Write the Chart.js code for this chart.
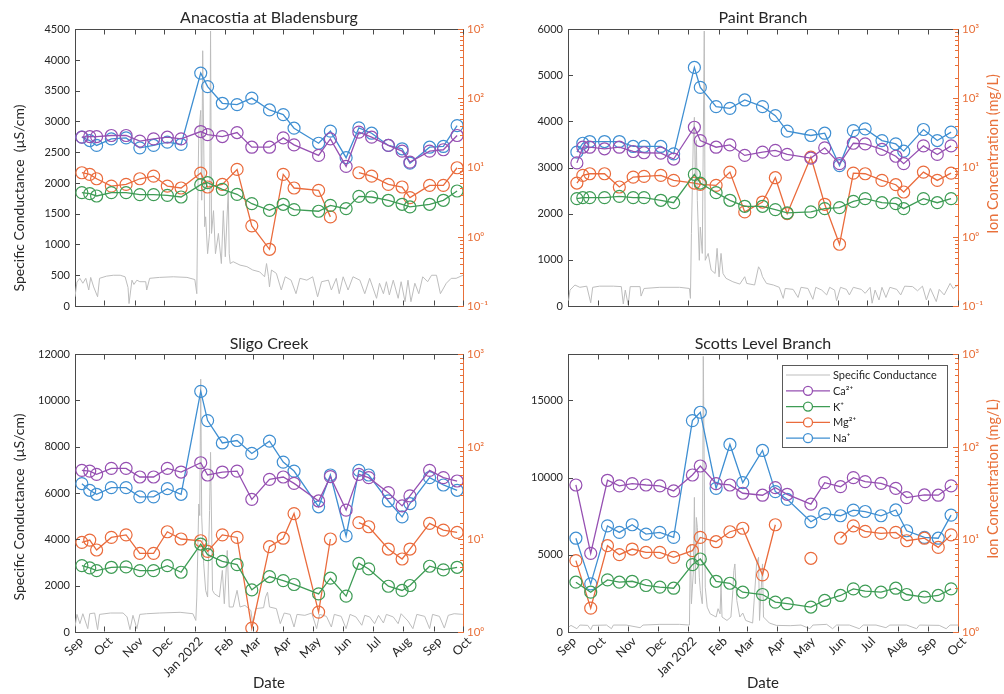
<!DOCTYPE html>
<html><head><meta charset="utf-8">
<script src="https://cdn.jsdelivr.net/npm/chart.js@4.4.1/dist/chart.umd.min.js"></script>
<style>
html,body{margin:0;padding:0;background:#fff;}
#wrap{position:relative;width:1004px;height:694px;overflow:hidden;background:#fff;}
#wrap canvas{position:absolute;}
</style></head><body>
<div id="wrap">
<canvas id="c1" width="502" height="330" style="left:0;top:0"></canvas>
<canvas id="c2" width="502" height="330" style="left:502px;top:0"></canvas>
<canvas id="c3" width="502" height="364" style="left:0;top:330px"></canvas>
<canvas id="c4" width="502" height="364" style="left:502px;top:330px"></canvas>
</div>
<script>
// ---- x axis (days since 1 Sep 2021) ----
const monthDays = [0,30,61,91,122,153,181,212,242,273,303,334,365,395];
const monthLabels = ['Sep','Oct','Nov','Dec','Jan 2022','Feb','Mar','Apr','May','Jun','Jul','Aug','Sep','Oct'];
const ionLabels = ['Ca²⁺','K⁺','Mg²⁺','Na⁺'];
const scLabel = 'Specific Conductance';

// ---- Anacostia at Bladensburg ----
const anaDays = [7,15,22,37,52,66,80,94,108,128,135,150,165,180,198,212,223,248,260,276,289,302,319,333,341,361,375,389];
const anaCa = [27.5,28.1,28.1,29.1,29.1,24.1,26.0,27.5,26.0,33.2,30.0,28.1,32.1,19.7,19.7,26.9,21.3,15.0,26.0,10.4,32.5,27.5,20.9,17.3,12.0,17.3,18.1,29.1];
const anaK = [4.34,4.20,3.89,4.34,4.34,4.06,4.06,3.97,3.76,5.66,6.05,4.85,4.11,3.01,2.41,2.95,2.47,2.34,2.85,2.55,3.84,3.76,3.37,2.95,2.70,2.95,3.37,4.59];
const anaMg = [8.43,7.97,6.90,5.41,5.72,6.90,7.54,5.41,5.07,8.33,5.24,5.72,9.41,1.44,0.66,7.97,5.07,4.69,1.94,null,8.43,7.54,5.72,5.24,3.68,5.54,5.54,9.95];
const anaNa = [27.5,24.6,20.9,26.0,26.9,19.3,20.9,23.3,21.6,232,148,85,81.3,101,68.1,58.3,37.1,22.5,33.6,13.9,37.5,31.4,20.9,18.7,11.6,19.7,20.2,40.5];
const anaScDays = [0,2,5,8,11,14,16,19,23,25,32,39,46,51,54,55,58,60,63,66,72,73,76,86,100,114,122,124,125,126,128,129,130,132,133,135,137,138,139,141,143,146,149,151,153,156,157,158,161,168,175,181,188,193,195,197,198,200,205,210,214,220,225,229,236,242,247,251,258,261,266,269,273,278,283,290,295,300,307,310,314,317,320,324,329,332,336,339,342,346,350,354,359,363,368,372,378,383,388,395];
const anaScVals = [150,390,450,370,450,260,465,310,150,450,485,500,500,475,300,40,420,350,420,395,395,260,450,465,475,465,430,200,1720,2800,3180,1720,4150,1290,1450,850,1180,4470,1180,1550,850,1180,690,1550,800,1880,850,690,720,665,640,585,555,475,690,475,310,585,530,260,475,420,200,450,420,475,150,395,420,260,450,200,475,260,475,420,200,450,125,370,200,395,180,420,125,395,70,420,70,370,200,475,395,500,500,200,370,450,450,500];
const anaLeftTicks = [0,500,1000,1500,2000,2500,3000,3500,4000,4500];

// ---- Paint Branch ----
const pbDays = [9,15,22,37,52,66,77,94,107,128,134,150,164,179,197,210,222,246,260,275,289,301,318,332,340,360,374,388];
const pbCa = [11.7,19.7,19.7,18.7,19.7,17.1,16.4,16.2,13.3,38.3,24.6,19.7,21.3,15.0,16.7,17.7,15.5,13.7,19.3,11.4,22.5,22.0,18.3,14.6,11.4,20.6,15.5,20.6];
const pbK = [3.56,3.68,3.68,3.68,3.84,3.68,3.68,3.37,3.11,7.97,5.98,4.34,3.37,2.76,2.76,2.47,2.21,2.29,2.55,2.64,3.25,3.56,3.11,3.01,2.55,3.56,3.11,3.56];
const pbMg = [5.98,7.71,8.15,8.15,5.24,7.30,7.46,7.71,6.53,5.98,5.72,5.54,8.61,2.29,3.18,7.14,2.16,14.2,2.95,0.78,8.33,8.15,6.53,5.66,4.44,8.61,6.53,8.33];
const pbNa = [16.7,22.5,23.8,23.8,23.8,20.2,20.2,20.2,15.8,280,144,76.1,71.9,94.9,76.1,56.4,33.6,29.1,31.4,10.7,34.3,36.3,24.6,22.0,17.3,35.5,24.6,32.5];
const pbScDays = [0,2,7,12,19,23,25,32,46,54,56,58,61,63,73,74,77,93,113,123,124,125,127,128,129,130,131,133,134,136,138,139,142,145,149,151,153,155,157,160,167,174,179,181,189,193,195,197,201,208,214,218,220,228,233,236,243,248,251,257,262,265,270,272,276,282,285,289,297,301,306,308,311,315,318,322,326,333,337,341,349,354,359,363,367,373,376,381,387,390,395];
const pbScVals = [20,345,455,405,430,70,405,430,430,420,45,345,20,420,420,215,380,405,405,380,165,1570,3730,4090,2580,3590,2290,990,1710,1140,5960,990,1140,780,705,1250,630,1140,705,600,525,475,635,490,455,850,780,635,490,455,405,165,380,360,185,405,380,145,405,345,240,405,345,115,405,360,240,405,360,275,405,60,345,130,405,185,405,360,240,430,420,330,430,130,380,95,360,240,490,380,455];
const pbLeftTicks = [0,1000,2000,3000,4000,5000,6000];

// ---- Sligo Creek ----
const scDays = [7,15,22,37,52,66,80,94,108,128,135,150,165,180,198,212,223,248,260,276,289,299,319,333,341,361,375,389];
const scCa = [55.7,54.7,50.4,58.5,58.5,47.2,47.2,58.5,53.4,67.3,49.6,53.4,54.7,27.1,44.5,47.2,40.3,26.0,47.6,20.7,50.4,46.4,32.0,23.0,29.5,55.7,46.4,42.7];
const scK = [5.21,4.92,4.60,5.00,5.05,4.60,4.60,5.21,4.42,8.91,6.84,5.80,5.34,2.85,3.97,3.59,3.26,2.58,3.81,2.44,5.52,4.80,3.12,2.81,3.18,5.13,4.68,5.00];
const scMg = [9.29,9.83,7.68,10.5,11.2,7.07,7.07,12.1,10.1,9.67,7.43,11.2,10.5,1.10,8.34,10.3,19.0,1.64,10.1,null,15.2,13.7,7.87,6.14,7.87,14.9,12.6,11.9];
const scNa = [40.0,33.9,30.7,36.2,36.2,28.8,28.8,35.3,30.7,397,192,110,117,84.8,115,68.4,54.7,22.5,49.6,10.9,55.7,49.6,26.0,17.5,24.4,46.4,38.7,33.9];
const scScDays = [0,2,5,8,13,15,20,23,25,36,49,53,56,59,63,66,73,86,107,120,123,124,126,127,128,129,131,133,135,137,138,140,142,147,150,152,155,157,161,165,168,173,179,181,184,192,194,196,198,205,209,213,219,223,226,234,241,246,249,256,261,264,271,276,280,286,292,295,300,305,309,314,317,324,329,332,339,344,348,356,361,364,371,376,380,386,395];
const scScVals = [215,760,360,790,145,790,820,100,760,820,820,650,100,720,145,760,790,820,850,790,500,1510,5530,5030,10920,4960,2950,1800,1510,5250,7760,1800,1650,1510,2660,1220,3520,1080,1080,1800,1080,1150,930,330,1010,1050,1510,1720,1080,1010,360,820,760,215,760,720,820,145,760,675,215,760,675,145,760,650,290,720,650,360,720,390,760,650,360,790,475,145,760,675,145,760,675,170,720,790,760];
const scLeftTicks = [0,2000,4000,6000,8000,10000,12000];

// ---- Scotts Level Branch ----
const slDays = [8,23,40,52,65,79,93,107,126,134,150,164,177,197,210,222,246,260,276,289,301,317,332,343,361,375,388];
const slCa = [38.7,7.07,43.5,37.8,40.0,38.7,37.8,33.4,49.6,62.0,40.0,38.7,31.5,30.0,36.2,30.7,24.0,41.0,37.1,46.4,42.0,40.3,35.6,28.3,30.2,30.0,37.8];
const slK = [3.45,2.69,3.65,3.45,3.53,3.18,3.05,2.97,5.34,6.14,3.53,3.36,2.69,2.54,2.10,2.02,1.86,2.19,2.48,2.92,2.76,2.69,2.97,2.54,2.38,2.48,2.92];
const slMg = [5.90,1.81,8.55,6.84,7.87,7.25,7.25,6.40,7.55,10.5,9.44,12.1,13.2,4.14,14.4,null,6.25,null,10.3,14.0,12.2,11.6,11.9,9.67,10.3,8.20,11.2];
const slNa = [10.3,3.31,14.0,11.9,14.4,11.4,11.9,10.5,192,236,35.6,106,41.0,91.3,32.8,27.1,15.5,19.0,18.0,20.7,20.0,18.0,20.8,12.4,10.5,10.3,18.3];
const slScDays = [0,3,9,12,20,23,25,39,44,46,59,73,76,93,113,123,124,125,127,128,129,130,131,133,134,136,137,139,141,144,150,152,154,155,156,161,165,167,168,169,171,174,177,180,187,191,193,194,197,198,204,211,225,236,245,248,262,268,272,285,295,299,312,322,326,343,353,356,376,383,387,395];
const slScVals = [280,430,215,450,430,150,430,450,215,450,450,280,450,495,495,450,5700,1830,3980,8720,3120,7420,6780,3550,2690,1830,17860,2900,1610,1180,970,1510,1180,3120,970,750,970,2690,3980,4410,2040,970,1230,750,580,4410,4840,750,4410,970,580,430,410,450,215,450,495,215,450,450,215,450,450,280,450,450,215,450,430,215,450,450];
const slLeftTicks = [0,5000,10000,15000];

// ---- styling ----
const FONT = 'Lato, "Open Sans", sans-serif';
const TXT = '#262626';
const AXC = '#4a4a4a';
const ORG = '#e8703a';
const COLORS = {ca:'#9650b2', k:'#3e9c55', mg:'#ea6b3c', na:'#3f8fd2', sc:'#bdbdbd'};
const SUP = {'-1':'⁻¹','0':'⁰','1':'¹','2':'²','3':'³'};

function pts(days, vals){ return days.map((d,i)=>({x:d, y:vals[i]})); }
function ionDs(label, days, vals, color){
  return {label, data:pts(days, vals), yAxisID:'y2', borderColor:color, backgroundColor:color,
    borderWidth:1.3, pointRadius:6, pointHoverRadius:6, pointBorderWidth:1.2, pointBorderColor:color,
    pointBackgroundColor:'rgba(0,0,0,0)', tension:0, spanGaps:false, order:1};
}

function line(ctx,x1,y1,x2,y2){ ctx.beginPath(); ctx.moveTo(x1,y1); ctx.lineTo(x2,y2); ctx.stroke(); }

const framePlugin = {
  id:'frame',
  afterDraw(chart){
    const o = chart.options.plugins.frame;
    const {ctx, chartArea:a, scales} = chart;
    ctx.save();
    ctx.lineWidth = 1;
    ctx.strokeStyle = AXC;
    const T = Math.round(a.top)+0.5, B = Math.round(a.bottom)-0.5;
    line(ctx, a.left, T, a.right, T);
    monthDays.forEach(d=>{
      const px = Math.round(scales.x.getPixelForValue(d))+0.5;
      line(ctx, px, B, px, B-5);
      line(ctx, px, T, px, T+5);
    });
    scales.y.ticks.forEach(t=>{
      const py = Math.round(scales.y.getPixelForValue(t.value))+0.5;
      line(ctx, a.left, py, a.left+5, py);
    });
    ctx.strokeStyle = ORG;
    scales.y2.ticks.forEach(t=>{
      const l = Math.log10(t.value);
      const major = Math.abs(l-Math.round(l))<1e-6;
      const py = Math.round(scales.y2.getPixelForValue(t.value))+0.5;
      line(ctx, a.right, py, a.right-(major?5:3), py);
    });
    // axis titles (both read bottom-to-top)
    ctx.textAlign='center'; ctx.textBaseline='middle';
    if (o.leftTitle){
      ctx.save(); ctx.translate(o.leftTitle.x, o.leftTitle.y); ctx.rotate(-Math.PI/2);
      ctx.fillStyle = TXT; ctx.font = '14px '+FONT; ctx.fillText(o.leftTitle.text,0,0); ctx.restore();
    }
    if (o.rightTitle){
      ctx.save(); ctx.translate(o.rightTitle.x, o.rightTitle.y); ctx.rotate(-Math.PI/2);
      ctx.fillStyle = ORG; ctx.font = '14.5px '+FONT; ctx.fillText(o.rightTitle.text,0,0); ctx.restore();
    }
    // legend
    if (o.legend){
      const L = o.legend;
      ctx.fillStyle='#fff'; ctx.fillRect(L.x, L.y, L.w, L.h);
      ctx.strokeStyle='#5a5a5a'; ctx.strokeRect(L.x+0.5, L.y+0.5, L.w, L.h);
      const ds = chart.data.datasets;
      const orderIdx = [4,0,1,2,3];
      ctx.font = '11px '+FONT; ctx.textAlign='left'; ctx.textBaseline='middle';
      orderIdx.forEach((di,r)=>{
        const d = ds[di];
        const y = L.y + 10 + r*15.8;
        ctx.strokeStyle = d.borderColor; ctx.lineWidth = d.borderWidth;
        line(ctx, L.x+4, y, L.x+48, y);
        if (d.pointRadius>0){
          ctx.beginPath(); ctx.arc(L.x+26, y, 4.5, 0, Math.PI*2); ctx.fillStyle='#fff'; ctx.fill(); ctx.stroke();
        }
        ctx.fillStyle = TXT; ctx.fillText(d.label, L.x+51, y+0.5);
      });
    }
    ctx.restore();
  }
};

function makeChart(id, cfg){
  const bottom = cfg.bottomRow;
  new Chart(document.getElementById(id), {
    type:'line',
    data:{datasets:[
      ionDs(ionLabels[0], cfg.days, cfg.ca, COLORS.ca),
      ionDs(ionLabels[1], cfg.days, cfg.k, COLORS.k),
      ionDs(ionLabels[2], cfg.days, cfg.mg, COLORS.mg),
      ionDs(ionLabels[3], cfg.days, cfg.na, COLORS.na),
      {label:scLabel, data:pts(cfg.scDays, cfg.scVals), yAxisID:'y', borderColor:COLORS.sc,
       borderWidth:1, pointRadius:0, tension:0, order:10}
    ]},
    options:{
      responsive:false, animation:false, events:[],
      layout:{padding:0},
      plugins:{
        legend:{display:false}, tooltip:{enabled:false},
        title:{display:true, text:cfg.title, fullSize:false, color:TXT,
               font:{family:FONT, size:16, weight:'normal', lineHeight:1.2},
               padding: bottom ? {top:4, bottom:1} : {top:8, bottom:2}},
        frame:{leftTitle:cfg.leftTitle, rightTitle:cfg.rightTitle, legend:cfg.legend}
      },
      scales:{
        x:{type:'linear', min:0, max:395, position:'bottom',
           grid:{display:false, drawTicks:false}, border:{display:true, color:AXC},
           afterBuildTicks:s=>{ s.ticks = monthDays.map(v=>({value:v})); },
           afterFit:s=>{ s.height = cfg.xH; s.paddingLeft=0; s.paddingRight=0; },
           ticks:{display:bottom, autoSkip:false, maxRotation:45, minRotation:45, padding:2, labelOffset:6, color:TXT,
                  font:{family:FONT, size:12.5},
                  callback:v=>monthLabels[monthDays.indexOf(v)]},
           title:{display:bottom, text:'Date', color:TXT, font:{family:FONT, size:15}, padding:{top:0,bottom:2}}},
        y:{type:'linear', position:'left', min:0, max:cfg.leftMax,
           grid:{display:false, drawTicks:false}, border:{display:true, color:AXC},
           afterBuildTicks:s=>{ s.ticks = cfg.leftTicks.map(v=>({value:v})); },
           afterFit:s=>{ s.width = cfg.yW; s.paddingTop=0; s.paddingBottom=0; },
           ticks:{autoSkip:false, padding:5, color:TXT, font:{family:FONT, size:11}, callback:v=>String(v)}},
        y2:{type:'logarithmic', position:'right', min:cfg.rightMin, max:1000,
           grid:{display:false, drawTicks:false}, border:{display:true, color:ORG},
           afterFit:s=>{ s.width = cfg.y2W; s.paddingTop=0; s.paddingBottom=0; },
           ticks:{autoSkip:false, padding:4, color:ORG, font:{family:FONT, size:11.5},
                  callback:v=>{ const l=Math.log10(v); const r=Math.round(l); return Math.abs(l-r)<1e-6 ? '10'+SUP[String(r)] : ''; }}}
      }
    },
    plugins:[framePlugin]
  });
}

const LT = 'Specific Conductance  (µS/cm)';
const RT = 'Ion Concentration (mg/L)';
makeChart('c1', {title:'Anacostia at Bladensburg', days:anaDays, ca:anaCa, k:anaK, mg:anaMg, na:anaNa,
  scDays:anaScDays, scVals:anaScVals, leftTicks:anaLeftTicks, leftMax:4500, rightMin:0.1,
  xH:24, yW:75, y2W:39, bottomRow:false, leftTitle:{text:LT, x:19, y:198}});
makeChart('c2', {title:'Paint Branch', days:pbDays, ca:pbCa, k:pbK, mg:pbMg, na:pbNa,
  scDays:pbScDays, scVals:pbScVals, leftTicks:pbLeftTicks, leftMax:6000, rightMin:0.1,
  xH:24, yW:66, y2W:46, bottomRow:false, rightTitle:{text:RT, x:491, y:154}});
makeChart('c3', {title:'Sligo Creek', days:scDays, ca:scCa, k:scK, mg:scMg, na:scNa,
  scDays:scScDays, scVals:scScVals, leftTicks:scLeftTicks, leftMax:12000, rightMin:1,
  xH:62, yW:75, y2W:39, bottomRow:true, leftTitle:{text:LT, x:19, y:177}});
makeChart('c4', {title:'Scotts Level Branch', days:slDays, ca:slCa, k:slK, mg:slMg, na:slNa,
  scDays:slScDays, scVals:slScVals, leftTicks:slLeftTicks, leftMax:18000, rightMin:1,
  xH:62, yW:66, y2W:46, bottomRow:true, rightTitle:{text:RT, x:491, y:149},
  legend:{x:280, y:35, w:165, h:82}});
</script>
</body></html>
